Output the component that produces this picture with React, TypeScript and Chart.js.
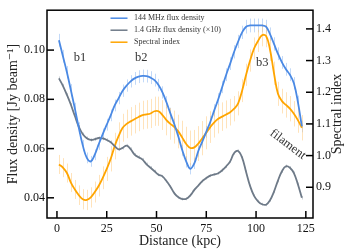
import React, { useEffect, useRef } from "react";
import { Chart, registerables } from "chart.js";

Chart.register(...registerables);

// ---------- data ----------
const DISTANCE_KPC = [
  1, 3, 5, 7, 9, 11, 13, 15, 17, 19,
  21, 23, 25, 27, 29, 31, 33, 35, 37, 39,
  41, 43, 45, 47, 49, 51, 53, 55, 57, 59,
  61, 63, 65, 67, 69, 71, 73, 75, 77, 79,
  81, 83, 85, 87, 89, 91, 93, 95, 97, 99,
  101, 103, 105, 107, 109, 111, 113, 115, 117, 119,
  121, 123,
];

const FLUX_144MHZ = [
  0.1040, 0.0975, 0.0910, 0.0837, 0.0762, 0.0683, 0.0612, 0.0562, 0.0548, 0.0575,
  0.0618, 0.0659, 0.0697, 0.0735, 0.0775, 0.0805, 0.0835, 0.0856, 0.0873, 0.0885,
  0.0892, 0.0895, 0.0894, 0.0888, 0.0878, 0.0858, 0.0828, 0.0788, 0.0742, 0.0698,
  0.0648, 0.0592, 0.0546, 0.0518, 0.0540, 0.0590, 0.0628, 0.0668, 0.0708, 0.0755,
  0.0800, 0.0850, 0.0900, 0.0945, 0.0993, 0.1035, 0.1072, 0.1095, 0.1100, 0.1100,
  0.1100, 0.1100, 0.1095, 0.1065, 0.1025, 0.0985, 0.0950, 0.0922, 0.0900, 0.0865,
  0.0790, 0.0690,
];
const FLUX_144MHZ_ERR = [
  0.0026, 0.0026, 0.0025, 0.0025, 0.0024, 0.0024, 0.0023, 0.0022, 0.0022, 0.0022,
  0.0023, 0.0023, 0.0024, 0.0024, 0.0024, 0.0025, 0.0025, 0.0025, 0.0025, 0.0026,
  0.0026, 0.0026, 0.0026, 0.0026, 0.0026, 0.0025, 0.0025, 0.0025, 0.0024, 0.0024,
  0.0024, 0.0023, 0.0023, 0.0023, 0.0023, 0.0023, 0.0024, 0.0024, 0.0024, 0.0025,
  0.0025, 0.0025, 0.0026, 0.0026, 0.0027, 0.0027, 0.0027, 0.0028, 0.0028, 0.0028,
  0.0028, 0.0028, 0.0028, 0.0027, 0.0027, 0.0026, 0.0026, 0.0026, 0.0026, 0.0025,
  0.0025, 0.0024,
];

const FLUX_1_4GHZ_X10 = [
  0.0885, 0.0855, 0.0818, 0.0778, 0.0732, 0.0688, 0.0658, 0.0642, 0.0635, 0.0638,
  0.0643, 0.0641, 0.0635, 0.0626, 0.0610, 0.0597, 0.0603, 0.0612, 0.0598, 0.0575,
  0.0565, 0.0555, 0.0536, 0.0522, 0.0508, 0.0494, 0.0487, 0.0468, 0.0445, 0.0418,
  0.0402, 0.0395, 0.0396, 0.0410, 0.0432, 0.0450, 0.0468, 0.0480, 0.0490, 0.0495,
  0.0500, 0.0512, 0.0528, 0.0548, 0.0582, 0.0590, 0.0563, 0.0505, 0.0448, 0.0408,
  0.0386, 0.0374, 0.0372, 0.0390, 0.0425, 0.0470, 0.0508, 0.0528, 0.0522, 0.0500,
  0.0455, 0.0400,
];
const FLUX_1_4GHZ_ERR = [
  0.0008, 0.0008, 0.0008, 0.0007, 0.0007, 0.0007, 0.0007, 0.0007, 0.0007, 0.0007,
  0.0007, 0.0007, 0.0007, 0.0007, 0.0007, 0.0007, 0.0007, 0.0007, 0.0007, 0.0007,
  0.0007, 0.0007, 0.0007, 0.0007, 0.0006, 0.0006, 0.0006, 0.0006, 0.0006, 0.0006,
  0.0006, 0.0006, 0.0006, 0.0006, 0.0006, 0.0006, 0.0006, 0.0006, 0.0006, 0.0006,
  0.0006, 0.0007, 0.0007, 0.0007, 0.0007, 0.0007, 0.0007, 0.0007, 0.0006, 0.0006,
  0.0006, 0.0006, 0.0006, 0.0006, 0.0006, 0.0007, 0.0007, 0.0007, 0.0007, 0.0007,
  0.0007, 0.0007,
];

const SPECTRAL_INDEX = [
  0.972, 0.962, 0.945, 0.915, 0.893, 0.875, 0.862, 0.860, 0.868, 0.885,
  0.905, 0.930, 0.958, 0.990, 1.030, 1.062, 1.088, 1.100, 1.108, 1.115,
  1.122, 1.128, 1.130, 1.133, 1.140, 1.140, 1.128, 1.112, 1.100, 1.090,
  1.076, 1.056, 1.036, 1.024, 1.026, 1.038, 1.055, 1.072, 1.090, 1.105,
  1.116, 1.123, 1.130, 1.137, 1.148, 1.165, 1.205, 1.255, 1.300, 1.338,
  1.362, 1.380, 1.378, 1.335, 1.260, 1.195, 1.172, 1.160, 1.148, 1.132,
  1.112, 1.088,
];
const SPECTRAL_INDEX_ERR = [
  0.030, 0.030, 0.030, 0.030, 0.030, 0.031, 0.032, 0.032, 0.032, 0.033,
  0.034, 0.036, 0.038, 0.040, 0.042, 0.043, 0.044, 0.045, 0.045, 0.045,
  0.045, 0.045, 0.045, 0.046, 0.046, 0.046, 0.047, 0.048, 0.050, 0.052,
  0.053, 0.054, 0.055, 0.055, 0.055, 0.055, 0.054, 0.052, 0.050, 0.048,
  0.046, 0.045, 0.044, 0.042, 0.040, 0.038, 0.036, 0.035, 0.035, 0.035,
  0.035, 0.035, 0.036, 0.036, 0.037, 0.038, 0.039, 0.040, 0.040, 0.040,
  0.040, 0.040,
];

const X_TICKS = [0, 25, 50, 75, 100, 125];
const FLUX_TICKS = [0.04, 0.06, 0.08, 0.1];
const INDEX_TICKS = [0.9, 1.0, 1.1, 1.2, 1.3, 1.4];

const SERIES_LABELS = [
  "144 MHz flux density",
  "1.4 GHz flux density (×10)",
  "Spectral index",
];
const REGION_NAMES = ["b1", "b2", "b3", "filament"];

// ---------- styling ----------
const BLUE = "rgb(74,137,228)";
const BLUE_ERR = "rgba(120,170,240,0.45)";
const GRAY = "rgb(110,122,136)";
const GRAY_ERR = "rgba(160,170,180,0.5)";
const ORANGE = "rgb(255,165,0)";
const ORANGE_ERR = "rgba(255,200,120,0.5)";
const FONT = "'Liberation Serif', 'DejaVu Serif', serif";

// annotation anchors (data coordinates on x / left axis)
const ANNOTATIONS = [
  { name: REGION_NAMES[0], x: 11.6, y: 0.0967, rot: 0 },
  { name: REGION_NAMES[1], x: 42.3, y: 0.0967, rot: 0 },
  { name: REGION_NAMES[2], x: 103.1, y: 0.0947, rot: 0 },
  { name: REGION_NAMES[3], x: 116.0, y: 0.0617, rot: 37 },
];

const toPoints = (ys: number[]) => DISTANCE_KPC.map((x, i) => ({ x, y: ys[i] }));

const errorBarsPlugin = {
  id: "errorBars",
  beforeDatasetsDraw(chart: any) {
    const { ctx, chartArea: a } = chart;
    ctx.save();
    ctx.beginPath();
    ctx.rect(a.left, a.top, a.right - a.left, a.bottom - a.top);
    ctx.clip();
    chart.data.datasets.forEach((ds: any) => {
      const errs: number[] = ds.errorBars;
      if (!errs) return;
      const xs = chart.scales.x;
      const ys = chart.scales[ds.yAxisID];
      ctx.strokeStyle = ds.errorColor;
      ctx.lineWidth = 1;
      ds.data.forEach((p: any, j: number) => {
        const px = Math.round(xs.getPixelForValue(p.x)) + 0.5;
        ctx.beginPath();
        ctx.moveTo(px, ys.getPixelForValue(p.y - errs[j]));
        ctx.lineTo(px, ys.getPixelForValue(p.y + errs[j]));
        ctx.stroke();
      });
    });
    ctx.restore();
  },
};

const framePlugin = {
  id: "frameAndDecor",
  afterDraw(chart: any) {
    const { ctx, chartArea: a, scales } = chart;
    ctx.save();
    // frame
    ctx.strokeStyle = "#000";
    ctx.lineWidth = 1.5;
    ctx.strokeRect(a.left, a.top, a.right - a.left, a.bottom - a.top);
    // inward ticks
    const line = (x1: number, y1: number, x2: number, y2: number) => {
      ctx.beginPath();
      ctx.moveTo(x1, y1);
      ctx.lineTo(x2, y2);
      ctx.stroke();
    };
    scales.x.ticks.forEach((t: any) => {
      const p = scales.x.getPixelForValue(t.value);
      line(p, a.bottom, p, a.bottom - 7);
    });
    scales.y.ticks.forEach((t: any) => {
      const p = scales.y.getPixelForValue(t.value);
      line(a.left, p, a.left + 7, p);
    });
    scales.y1.ticks.forEach((t: any) => {
      const p = scales.y1.getPixelForValue(t.value);
      line(a.right, p, a.right - 7, p);
    });

    // right axis title (reads bottom to top)
    ctx.save();
    ctx.translate(chart.width - 17, (a.top + a.bottom) / 2);
    ctx.rotate(-Math.PI / 2);
    ctx.fillStyle = "#222";
    ctx.font = `14px ${FONT}`;
    ctx.textAlign = "center";
    ctx.textBaseline = "middle";
    ctx.fillText("Spectral index", 0, 0);
    ctx.restore();

    // legend
    const colors = [BLUE, GRAY, ORANGE];
    ctx.font = `8px ${FONT}`;
    ctx.textBaseline = "middle";
    ctx.textAlign = "left";
    SERIES_LABELS.forEach((label, i) => {
      const y = a.top + 8 + i * 12;
      ctx.strokeStyle = colors[i];
      ctx.lineWidth = 1.5;
      line(a.left + 63.5, y, a.left + 80.5, y);
      ctx.fillStyle = "#333";
      ctx.fillText(label, a.left + 87, y);
    });

    // region annotations
    ctx.fillStyle = "#333";
    ctx.font = `12.5px ${FONT}`;
    ctx.textAlign = "center";
    ctx.textBaseline = "middle";
    ANNOTATIONS.forEach((an) => {
      const px = scales.x.getPixelForValue(an.x);
      const py = scales.y.getPixelForValue(an.y);
      ctx.save();
      ctx.translate(px, py);
      ctx.rotate((an.rot * Math.PI) / 180);
      ctx.fillText(an.name, 0, 0);
      ctx.restore();
    });
    ctx.restore();
  },
};

export default function App() {
  const canvasRef = useRef<HTMLCanvasElement | null>(null);

  useEffect(() => {
    if (!canvasRef.current) return;
    Chart.defaults.font.family = FONT;
    const chart = new Chart(canvasRef.current, {
      type: "line",
      data: {
        datasets: [
          {
            label: SERIES_LABELS[0],
            data: toPoints(FLUX_144MHZ),
            yAxisID: "y",
            borderColor: BLUE,
            borderWidth: 1.8,
            pointRadius: 0,
            tension: 0.4,
            errorBars: FLUX_144MHZ_ERR,
            errorColor: BLUE_ERR,
          } as any,
          {
            label: SERIES_LABELS[1],
            data: toPoints(FLUX_1_4GHZ_X10),
            yAxisID: "y",
            borderColor: GRAY,
            borderWidth: 1.8,
            pointRadius: 0,
            tension: 0.4,
            errorBars: FLUX_1_4GHZ_ERR,
            errorColor: GRAY_ERR,
          } as any,
          {
            label: SERIES_LABELS[2],
            data: toPoints(SPECTRAL_INDEX),
            yAxisID: "y1",
            borderColor: ORANGE,
            borderWidth: 1.8,
            pointRadius: 0,
            tension: 0.4,
            errorBars: SPECTRAL_INDEX_ERR,
            errorColor: ORANGE_ERR,
          } as any,
        ],
      },
      options: {
        animation: false,
        responsive: true,
        maintainAspectRatio: false,
        layout: { padding: { top: 6, left: 0, right: 0, bottom: 0 } },
        plugins: {
          legend: { display: false },
          tooltip: { enabled: false },
        },
        scales: {
          x: {
            type: "linear",
            min: -5,
            max: 128.6,
            afterBuildTicks: (s: any) => {
              s.ticks = X_TICKS.map((v) => ({ value: v }));
            },
            afterFit: (s: any) => {
              s.height = 32;
            },
            grid: { display: false, drawTicks: false },
            border: { display: false },
            ticks: {
              padding: 4,
              color: "#111",
              font: { size: 12 },
              maxRotation: 0,
              callback: (v: any) => String(v),
            },
            title: {
              display: true,
              text: "Distance (kpc)",
              color: "#222",
              font: { size: 14 },
              padding: { top: 0, bottom: 0 },
            },
          },
          y: {
            type: "linear",
            position: "left",
            min: 0.0318,
            max: 0.1162,
            afterBuildTicks: (s: any) => {
              s.ticks = FLUX_TICKS.map((v) => ({ value: v }));
            },
            afterFit: (s: any) => {
              s.width = 47;
            },
            grid: { display: false, drawTicks: false },
            border: { display: false },
            ticks: {
              padding: 2,
              color: "#111",
              font: { size: 12 },
              callback: (v: any) => Number(v).toFixed(2),
            },
            title: {
              display: true,
              text: "Flux density [Jy beam⁻¹]",
              color: "#222",
              font: { size: 14 },
              padding: { top: 4.5, bottom: 0 },
            },
          },
          y1: {
            type: "linear",
            position: "right",
            min: 0.803,
            max: 1.459,
            afterBuildTicks: (s: any) => {
              s.ticks = INDEX_TICKS.map((v) => ({ value: v }));
            },
            afterFit: (s: any) => {
              s.width = 41;
            },
            grid: { display: false, drawTicks: false },
            border: { display: false },
            ticks: {
              padding: 3,
              color: "#111",
              font: { size: 12 },
              callback: (v: any) => Number(v).toFixed(1),
            },
          },
        },
      },
      plugins: [errorBarsPlugin, framePlugin],
    });
    return () => chart.destroy();
  }, []);

  return (
    <div style={{ position: "absolute", left: 0, top: 0, width: 354, height: 250 }}>
      <canvas ref={canvasRef} />
    </div>
  );
}
